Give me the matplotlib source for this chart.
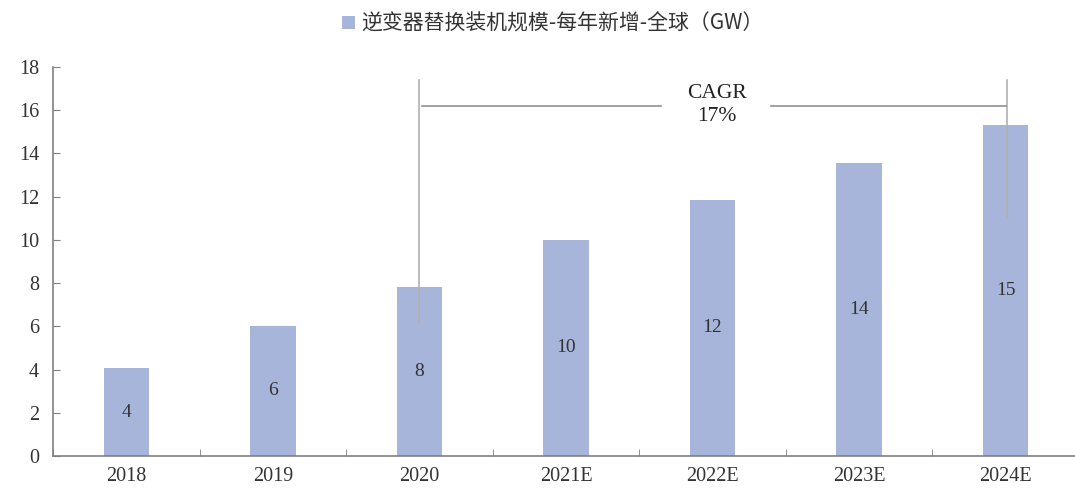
import numpy as np
import matplotlib.pyplot as plt

years = ["2018", "2019", "2020", "2021E", "2022E", "2023E", "2024E"]
values = [4.07, 6.02, 7.8, 10.0, 11.85, 13.55, 15.33]
labels = ["4", "6", "8", "10", "12", "14", "15"]
legend_name = "逆变器替换装机规模-每年新增-全球（GW）"
cagr_text = "CAGR\n17%"

bar_color = "#a8b5da"
serif = ["Liberation Serif", "DejaVu Serif"]

fig = plt.figure(figsize=(10.75, 4.9), dpi=100)
ax = fig.add_axes([53 / 1075, 34 / 490, 1026 / 1075, 389 / 490])

x = np.arange(len(years))
bars = ax.bar(x, values, width=0.31, color=bar_color, label=legend_name)

for xi, v, lab in zip(x, values, labels):
    ax.text(xi, v / 2, lab, ha="center", va="center", fontsize=14,
            family=serif, color="#333333")

ax.set_xlim(-0.5, 6.5)
ax.set_ylim(0, 18)
ax.set_yticks(range(0, 19, 2))
ax.set_xticks(x)
ax.set_xticklabels(years)
ax.set_xticks(np.arange(-0.5, 6.6, 1), minor=True)
ax.tick_params(axis="x", which="major", length=0, pad=8)
ax.tick_params(axis="x", which="minor", direction="in", length=5, color="#808080")
ax.tick_params(axis="y", direction="in", length=5, color="#808080", pad=10)
for t in ax.get_xticklabels() + ax.get_yticklabels():
    t.set_family(serif)
    t.set_fontsize(14.5)
    t.set_color("#333333")

for s in ["top", "right"]:
    ax.spines[s].set_visible(False)
for s in ["left", "bottom"]:
    ax.spines[s].set_color("#808080")
    ax.spines[s].set_linewidth(1.2)

# CAGR bracket
line_c = "#b0b0b0"
ax.plot([2, 2], [6.1, 17.4], color=line_c, lw=1.2)
ax.plot([6.01, 6.01], [11.0, 17.4], color=line_c, lw=1.2)
ax.plot([2.02, 3.65], [16.2, 16.2], color="#909090", lw=1.2)
ax.plot([4.4, 6.0], [16.2, 16.2], color="#909090", lw=1.2)
ax.text(4.03, 16.25, cagr_text, ha="center", va="center", fontsize=15.5,
        family=serif, color="#222222", linespacing=1.3)

leg = fig.legend(loc="upper center", bbox_to_anchor=(0.514, 1.012), frameon=False,
                 handlelength=0.6, handleheight=0.6, handletextpad=0.3,
                 prop={"family": ["Noto Sans CJK SC", "DejaVu Sans"], "size": 15})
for t in leg.get_texts():
    t.set_color("#333333")

fig.savefig("out.png", dpi=100)
